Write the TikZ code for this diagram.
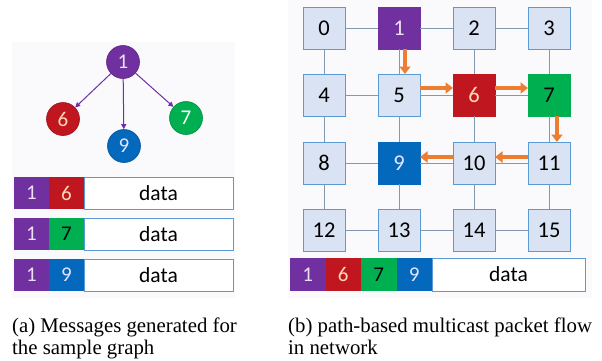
\documentclass[tikz,border=0pt]{standalone}
\usepackage{fontspec}
\setmainfont{Liberation Serif}
\newfontfamily\calib{Carlito}
\usetikzlibrary{arrows.meta, positioning}

\definecolor{mpurple}{HTML}{7030A0}
\definecolor{mred}{HTML}{C0161F}
\definecolor{mgreen}{HTML}{00B050}
\definecolor{mblue}{HTML}{0468BC}
\definecolor{gridfill}{HTML}{DAE3F3}
\definecolor{gridedge}{HTML}{5B9BD5}
\definecolor{wire}{HTML}{8497B0}
\definecolor{flowor}{HTML}{ED7D31}
\definecolor{paneltint}{HTML}{FAFAFD}

\begin{document}
\begin{tikzpicture}[x=1pt, y=-1pt, font=\calib]

% Styles
        \tikzstyle{vertex}=[circle, draw, line width=0.6pt, minimum size=33pt, inner sep=0pt, font=\calib\fontsize{21}{21}\selectfont]
        \tikzstyle{router}=[rectangle, draw=gridedge, fill=gridfill, line width=0.8pt, minimum size=42pt, inner sep=0pt, outer sep=0pt, font=\calib\fontsize{22.5}{22.5}\selectfont]
        \tikzstyle{cell}=[rectangle, minimum width=35pt, minimum height=32pt, inner sep=0pt, outer sep=0pt, font=\calib\fontsize{21}{21}\selectfont]
        \tikzstyle{payload}=[rectangle, draw=gridedge, fill=white, line width=0.8pt, minimum height=32pt, inner sep=0pt, outer sep=0pt, font=\calib\fontsize{21.5}{21.5}\selectfont]
        \tikzstyle{edge}=[-{Triangle[width=5pt,length=5pt]}, mpurple, line width=1pt]
        \tikzstyle{link}=[wire, line width=0.8pt]
        \tikzstyle{flow}=[-{Triangle[width=11pt,length=7.5pt]}, flowor, line width=4.5pt]
        \tikzstyle{caption}=[anchor=north west, align=left, inner sep=0pt, font=\rmfamily\fontsize{20.8}{22}\selectfont]

        \useasboundingbox (0,0) rectangle (602,360);

% Panel backgrounds
        \fill[paneltint] (12,42) rectangle (235,298);
        \fill[paneltint] (288,0) rectangle (592,298);

% Sample graph
        \node[vertex, fill=mpurple, draw=mpurple!80!black, text=mpurple!15] (v1) at (123,62) {1};
        \node[vertex, fill=mred, draw=mred!80!black, text=orange!30] (v6) at (63,119) {6};
        \node[vertex, fill=mblue, draw=mblue!80!black, text=blue!10] (v9) at (124,146) {9};
        \node[vertex, fill=mgreen, draw=mgreen!80!black, text=white] (v7) at (186,118) {7};

        \draw[edge] (v1) -- (v6);
        \draw[edge] (v1) -- (v9);
        \draw[edge] (v1) -- (v7);

% Messages
        \node[cell, fill=mpurple, text=mpurple!15] (m1a) at (31.5,193) {1};
        \node[cell, fill=mred, text=orange!30, right=0pt of m1a] (m1b) {6};
        \node[payload, minimum width=149pt, right=0pt of m1b] (m1c) {data};

        \node[cell, fill=mpurple, text=mpurple!15, below=9pt of m1a] (m2a) {1};
        \node[cell, fill=mgreen, text=black, right=0pt of m2a] (m2b) {7};
        \node[payload, minimum width=149pt, right=0pt of m2b] (m2c) {data};

        \node[cell, fill=mpurple, text=mpurple!15, below=9pt of m2a] (m3a) {1};
        \node[cell, fill=mblue, text=blue!10, right=0pt of m3a] (m3b) {9};
        \node[payload, minimum width=149pt, right=0pt of m3b] (m3c) {data};

% Mesh
% Row 0
        \node[router] (n0) at (324,28) {0};
        \node[router, fill=mpurple, draw=mpurple, text=mpurple!15, right=33pt of n0] (n1) {1};
        \node[router, right=33pt of n1] (n2) {2};
        \node[router, right=33pt of n2] (n3) {3};
% Row 1
        \node[router, below=25pt of n0] (n4) {4};
        \node[router, right=33pt of n4] (n5) {5};
        \node[router, fill=mred, draw=mred, text=orange!30, right=33pt of n5] (n6) {6};
        \node[router, fill=mgreen, draw=mgreen, right=33pt of n6] (n7) {7};
% Row 2
        \node[router, below=26pt of n4] (n8) {8};
        \node[router, fill=mblue, draw=mblue, text=blue!10, right=33pt of n8] (n9) {9};
        \node[router, right=33pt of n9] (n10) {10};
        \node[router, right=33pt of n10] (n11) {11};
% Row 3
        \node[router, below=25pt of n8] (n12) {12};
        \node[router, right=33pt of n12] (n13) {13};
        \node[router, right=33pt of n13] (n14) {14};
        \node[router, right=33pt of n14] (n15) {15};

% Links
        \draw[link] (n0) -- (n1) (n1) -- (n2) (n2) -- (n3);
        \draw[link] (n4) -- (n5) (n5) -- (n6) (n6) -- (n7);
        \draw[link] (n8) -- (n9) (n9) -- (n10) (n10) -- (n11);
        \draw[link] (n12) -- (n13) (n13) -- (n14) (n14) -- (n15);
        \draw[link] (n0) -- (n4) (n4) -- (n8) (n8) -- (n12);
        \draw[link] (n1) -- (n5) (n5) -- (n9) (n9) -- (n13);
        \draw[link] (n2) -- (n6) (n6) -- (n10) (n10) -- (n14);
        \draw[link] (n3) -- (n7) (n7) -- (n11) (n11) -- (n15);

% Packet path
        \draw[flow] ([xshift=6pt]n1.south) -- ([xshift=6pt]n5.north);
        \draw[flow] ([yshift=7pt]n5.east) -- ([yshift=7pt]n6.west);
        \draw[flow] ([yshift=7pt]n6.east) -- ([yshift=7pt]n7.west);
        \draw[flow] ([xshift=8pt]n7.south) -- ([xshift=8pt]n11.north);
        \draw[flow] ([yshift=6pt]n11.west) -- ([yshift=6pt]n10.east);
        \draw[flow] ([yshift=6pt]n10.west) -- ([yshift=6pt]n9.east);

% Multicast packet
        \node[cell, minimum width=35.5pt, minimum height=33pt, fill=mpurple, text=mpurple!15] (p1) at (307.75,274.5) {1};
        \node[cell, minimum width=35.5pt, minimum height=33pt, fill=mred, text=orange!30, right=0pt of p1] (p6) {6};
        \node[cell, minimum width=35.5pt, minimum height=33pt, fill=mgreen, text=black, right=0pt of p6] (p7) {7};
        \node[cell, minimum width=35.5pt, minimum height=33pt, fill=mblue, text=blue!10, right=0pt of p7] (p9) {9};
        \node[payload, minimum width=153pt, minimum height=33pt, right=0pt of p9] (pd) {data};

% Captions
        \node[caption] (capa) at (12,317.5) {(a) Messages generated for\\the sample graph};
        \node[caption] (capb) at (288,317.5) {(b) path-based multicast packet flow\\in network};

\end{tikzpicture}
\end{document}
